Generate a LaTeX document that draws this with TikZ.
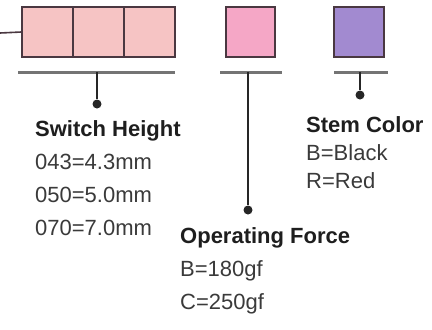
\documentclass[tikz,border=0pt]{standalone}
\usepackage{fontspec}
\setmainfont{Liberation Sans}
\usetikzlibrary{positioning}

\definecolor{edge}{HTML}{4A3841}
\definecolor{swfill}{HTML}{F6C4C4}
\definecolor{forcefill}{HTML}{F5A7C6}
\definecolor{stemfill}{HTML}{A28AD0}
\definecolor{bargray}{HTML}{747474}
\definecolor{stemgray}{HTML}{262626}
\definecolor{headc}{HTML}{1E1E1E}
\definecolor{bodyc}{HTML}{3A3A3A}

\begin{document}
\begin{tikzpicture}[
  x=1pt, y=-1pt,
  key/.style={rectangle, draw=edge, line width=2pt, inner sep=0pt, outer sep=0pt,
              minimum width=51pt, minimum height=50pt},
  bar/.style={draw=bargray, line width=3pt},
  stem/.style={draw=stemgray, line width=2pt},
  tip/.style={circle, fill=stemgray, inner sep=0pt, minimum size=9pt},
  note/.style={align=left, inner sep=0pt, anchor=north west, text=bodyc,
               font=\fontsize{22}{33}\selectfont}
]
\useasboundingbox (0,0) rectangle (432,330);

% ---------------- switch height: three boxes ----------------
\node[key, fill=swfill] (sw1) at (47,32) {};
\node[key, fill=swfill, right=0pt of sw1] (sw2) {};
\node[key, fill=swfill, right=0pt of sw2] (sw3) {};
\coordinate (lead) at (0,33);
\draw[edge, line width=1.6pt] (lead) -- (sw1.west);

\coordinate (swbarl) at (18,72);
\coordinate (swbarr) at (175,72);
\coordinate (swjoin) at (97,72);
\node[tip] (swdot) at (97,104) {};
\node[note] (swtxt) at (35,120)
  {{\color{headc}\textbf{Switch Height}}\\043=4.3mm\\050=5.0mm\\070=7.0mm};

% ---------------- operating force ----------------
\node[key, fill=forcefill, minimum width=49pt] (force) at (250.5,32) {};
\coordinate (fbarl) at (220,72);
\coordinate (fbarr) at (282,72);
\coordinate (fjoin) at (248,72);
\node[tip] (fdot) at (248,210) {};
\node[note] (ftxt) at (180,227)
  {{\color{headc}\textbf{Operating Force}}\\B=180gf\\C=250gf};

% ---------------- stem color ----------------
\node[key, fill=stemfill, minimum width=50pt] (stem) at (359,32) {};
\coordinate (sbarl) at (334,72);
\coordinate (sbarr) at (388,72);
\coordinate (sjoin) at (360,72);
\node[tip] (sdot) at (360,95) {};
\node[note, font=\fontsize{22}{28}\selectfont] (stxt) at (306,116)
  {{\color{headc}\textbf{Stem Color}}\\B=Black\\R=Red};

% ---------------- bars and leaders ----------------
\draw[bar] (swbarl) -- (swbarr);
\draw[bar] (fbarl) -- (fbarr);
\draw[bar] (sbarl) -- (sbarr);
\draw[stem] (swjoin) -- (swdot);
\draw[stem] (fjoin) -- (fdot);
\draw[stem] (sjoin) -- (sdot);
\end{tikzpicture}
\end{document}
